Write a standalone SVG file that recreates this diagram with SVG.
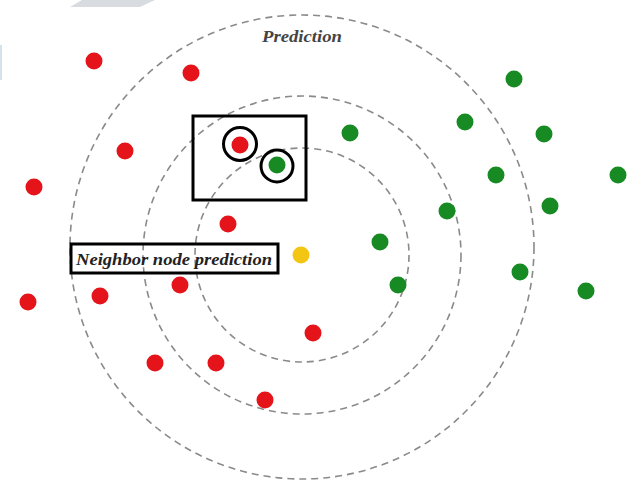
<svg xmlns="http://www.w3.org/2000/svg" width="629" height="480" viewBox="0 0 629 480">
<style>
.ring{fill:none;stroke:#8a8a8a;stroke-width:1.6;stroke-dasharray:7 5}
.red{fill:#e5141b}
.green{fill:#178a23}
.hl{fill:none;stroke:#000;stroke-width:3}
.lbl{font-family:"Liberation Serif",serif;font-weight:bold;font-style:italic}
</style>
<rect width="629" height="480" fill="#fff"/>
<polygon points="70,7 82,0 155,0 140,7" fill="#d8dbe0"/>
<rect x="0" y="45" width="2" height="35" fill="#d6e2ea"/>
<g id="connectors">
<circle class="ring" cx="302" cy="247" r="232"/>
<circle class="ring" cx="302" cy="255" r="159"/>
<circle class="ring" cx="302" cy="255" r="107"/>
</g>
<g id="label-prediction"><text class="lbl" x="262" y="42" font-size="16.5" fill="#444" textLength="80" lengthAdjust="spacingAndGlyphs">Prediction</text></g>
<g id="red-nodes">
<circle class="red" cx="94" cy="61" r="8.5"/>
<circle class="red" cx="191" cy="73" r="8.5"/>
<circle class="red" cx="125" cy="151" r="8.5"/>
<circle class="red" cx="34" cy="187" r="8.5"/>
<circle class="red" cx="228" cy="224" r="8.5"/>
<circle class="red" cx="180" cy="285" r="8.5"/>
<circle class="red" cx="100" cy="296" r="8.5"/>
<circle class="red" cx="28" cy="302" r="8.5"/>
<circle class="red" cx="313" cy="333" r="8.5"/>
<circle class="red" cx="155" cy="363" r="8.5"/>
<circle class="red" cx="216" cy="363" r="8.5"/>
<circle class="red" cx="265" cy="400" r="8.5"/>
</g>
<g id="green-nodes">
<circle class="green" cx="514" cy="79" r="8.5"/>
<circle class="green" cx="465" cy="122" r="8.5"/>
<circle class="green" cx="350" cy="133" r="8.5"/>
<circle class="green" cx="544" cy="134" r="8.5"/>
<circle class="green" cx="496" cy="175" r="8.5"/>
<circle class="green" cx="618" cy="175" r="8.5"/>
<circle class="green" cx="550" cy="206" r="8.5"/>
<circle class="green" cx="447" cy="211" r="8.5"/>
<circle class="green" cx="380" cy="242" r="8.5"/>
<circle class="green" cx="398" cy="285" r="8.5"/>
<circle class="green" cx="520" cy="272" r="8.5"/>
<circle class="green" cx="586" cy="291" r="8.5"/>
</g>
<g id="query-node"><circle cx="301" cy="255" r="8.5" fill="#f3c614"/></g>
<g id="highlight-box">
<rect class="hl" x="193" y="116" width="113" height="84"/>
<circle class="red" cx="240" cy="145" r="8.5"/>
<circle class="hl" cx="240" cy="144" r="16.5"/>
<circle class="green" cx="277" cy="165" r="8.5"/>
<circle class="hl" cx="277" cy="166" r="16"/>
</g>
<g id="label-neighbor">
<rect class="hl" x="71" y="244" width="207" height="29"/>
<text class="lbl" x="76" y="265" font-size="16.5" fill="#222" textLength="196" lengthAdjust="spacingAndGlyphs">Neighbor node prediction</text>
</g>
</svg>
